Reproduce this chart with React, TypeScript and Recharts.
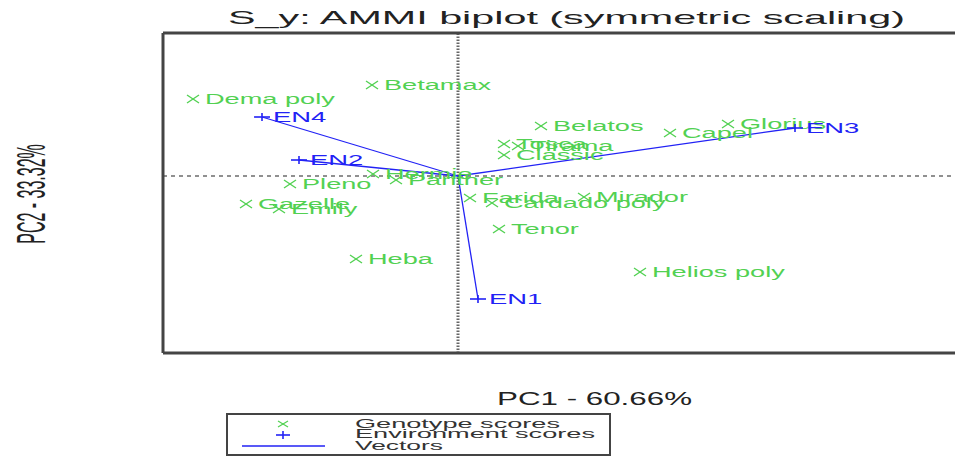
import { ScatterChart, Scatter, XAxis, YAxis, ReferenceLine } from 'recharts';

const genotypeNames = [
  'Dema poly', 'Betamax', 'Belatos', 'Capel', 'Glorius', 'Tosca', 'Tirama', 'Classic',
  'Panther', 'Hermie', 'Pleno', 'Gazelle', 'Emily', 'Farida', 'Cardado poly',
  'Mirador', 'Tenor', 'Heba', 'Helios poly',
];
const genotypePC1 = [
  -1.06, -0.344, 0.332, 0.848, 1.08, 0.184, 0.24, 0.184,
  -0.248, -0.34, -0.672, -0.848, -0.716, 0.048, 0.136,
  0.504, 0.164, -0.408, 0.728,
];
const genotypePC2 = [
  0.308, 0.364, 0.2, 0.172, 0.208, 0.128, 0.12, 0.084,
  -0.016, 0.008, -0.032, -0.112, -0.132, -0.088, -0.108,
  -0.084, -0.212, -0.332, -0.384,
];

const envNames = ['EN1', 'EN2', 'EN3', 'EN4'];
const envPC1 = [0.08, -0.636, 1.348, -0.784];
const envPC2 = [-0.492, 0.064, 0.192, 0.236];

const xDomain = [-1.18, 2.028];
const yDomain = [-0.708, 0.572];

const GREEN = '#52d152';
const BLUE = '#2222f5';
const FONT = '"Liberation Sans", Arial, sans-serif';

const genoData = genotypeNames.map((name, i) => ({ name, x: genotypePC1[i], y: genotypePC2[i] }));
const envData = envNames.map((name, i) => ({ name, x: envPC1[i], y: envPC2[i] }));

function GenoShape(props: any) {
  const { cx, cy, payload } = props;
  return (
    <g>
      <line x1={cx - 6} y1={cy - 4} x2={cx + 6} y2={cy + 4} stroke={GREEN} strokeWidth={1.3} />
      <line x1={cx - 6} y1={cy + 4} x2={cx + 6} y2={cy - 4} stroke={GREEN} strokeWidth={1.3} />
      <text
        transform={`translate(${cx + 12},${cy + 5}) scale(1.94,1)`}
        fill={GREEN}
        fontSize={14}
        fontFamily={FONT}
      >
        {payload.name}
      </text>
    </g>
  );
}

function EnvShape(props: any) {
  const { cx, cy, payload } = props;
  return (
    <g>
      <line x1={cx - 8} y1={cy} x2={cx + 8} y2={cy} stroke={BLUE} strokeWidth={1.6} />
      <line x1={cx} y1={cy - 4} x2={cx} y2={cy + 4} stroke={BLUE} strokeWidth={1.6} />
      <text
        transform={`translate(${cx + 11},${cy + 5}) scale(1.96,1)`}
        fill={BLUE}
        fontSize={14}
        fontFamily={FONT}
      >
        {payload.name}
      </text>
    </g>
  );
}

export default function App() {
  return (
    <div style={{ position: 'fixed', left: 0, top: 0, width: 955, height: 458, overflow: 'hidden', background: '#fff' }}>
      <ScatterChart width={970} height={458} margin={{ top: 33, right: 5, bottom: 105, left: 163 }}>
        <XAxis type="number" dataKey="x" domain={xDomain} hide allowDataOverflow />
        <YAxis type="number" dataKey="y" domain={yDomain} hide allowDataOverflow />
        <ReferenceLine x={0} stroke="#666" strokeWidth={3} strokeDasharray="1.5 1.5" />
        <ReferenceLine y={0} stroke="#222" strokeWidth={1.2} strokeDasharray="4 4" />
        {envData.map((e) => (
          <ReferenceLine
            key={e.name}
            segment={[{ x: 0, y: 0 }, { x: e.x, y: e.y }]}
            stroke={BLUE}
            strokeWidth={1.3}
          />
        ))}
        <ReferenceLine x={xDomain[0]} stroke="#444" strokeWidth={3} />
        <ReferenceLine y={yDomain[1]} stroke="#444" strokeWidth={3} />
        <ReferenceLine y={yDomain[0]} stroke="#444" strokeWidth={3} />
        <Scatter data={genoData} shape={GenoShape} isAnimationActive={false} />
        <Scatter data={envData} shape={EnvShape} isAnimationActive={false} />
      </ScatterChart>
      <svg
        width={955}
        height={458}
        style={{ position: 'absolute', left: 0, top: 0, pointerEvents: 'none' }}
        fontFamily={FONT}
      >
        <text x={228} y={24} fontSize={19} fill="#222" textLength={677} lengthAdjust="spacingAndGlyphs">
          S_y: AMMI biplot (symmetric scaling)
        </text>
        <text x={497} y={405} fontSize={18} fill="#222" textLength={195} lengthAdjust="spacingAndGlyphs">
          PC1 - 60.66%
        </text>
        <text
          transform="translate(45,194) rotate(-90) scale(1,2.5)"
          fontSize={16}
          fill="#222"
          textAnchor="middle"
        >
          PC2 - 33.32%
        </text>
        <rect x={227} y={414} width={383} height={41} fill="none" stroke="#444" strokeWidth={2} />
        <line x1={278} y1={421} x2={288} y2={427} stroke={GREEN} strokeWidth={1.2} />
        <line x1={278} y1={427} x2={288} y2={421} stroke={GREEN} strokeWidth={1.2} />
        <line x1={276} y1={435} x2={290} y2={435} stroke={BLUE} strokeWidth={1.6} />
        <line x1={283} y1={431} x2={283} y2={439} stroke={BLUE} strokeWidth={1.6} />
        <line x1={242} y1={446} x2={325} y2={446} stroke={BLUE} strokeWidth={1.3} />
        <text x={355} y={428} fontSize={12} fill="#333" textLength={205} lengthAdjust="spacingAndGlyphs">
          Genotype scores
        </text>
        <text x={355} y={438} fontSize={12} fill="#333" textLength={240} lengthAdjust="spacingAndGlyphs">
          Environment scores
        </text>
        <text x={355} y={450} fontSize={12} fill="#333" textLength={88} lengthAdjust="spacingAndGlyphs">
          Vectors
        </text>
      </svg>
    </div>
  );
}
